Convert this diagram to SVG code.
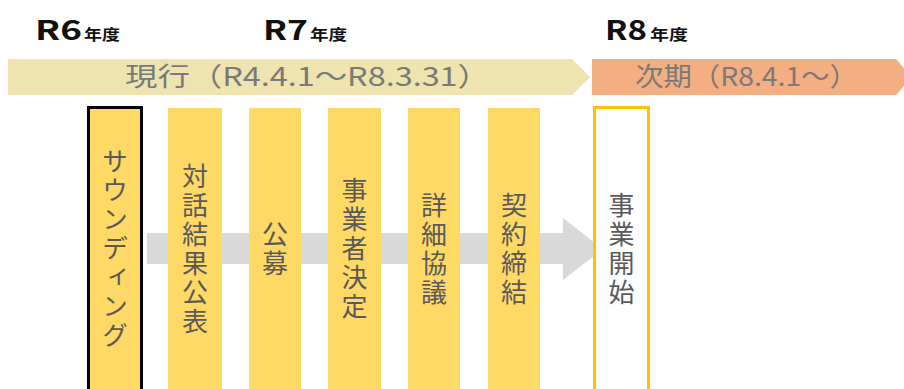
<svg xmlns="http://www.w3.org/2000/svg" width="904" height="389" viewBox="0 0 904 389">
<style>
.yr{font-family:"Noto Sans CJK JP","Noto Sans",sans-serif;font-weight:bold;fill:#111}
.big{font-size:27px}
.sm{font-size:15px}
.band{font-family:"Noto Sans CJK JP","Noto Sans",sans-serif;font-size:26px;fill:#7a7a7a}
.step{fill:#FFD966}
.vt{font-family:"Noto Sans CJK JP","Noto Sans",sans-serif;font-size:26px;fill:#5a5a5a;writing-mode:vertical-rl;text-anchor:middle;letter-spacing:3px}
</style>
<rect width="904" height="389" fill="#fff"/>
<g id="year-labels">
<text class="yr big" x="35" y="40" textLength="47" lengthAdjust="spacingAndGlyphs">R6</text>
<text class="yr sm" x="84" y="40" textLength="36" lengthAdjust="spacingAndGlyphs">年度</text>
<text class="yr big" x="263" y="40" textLength="45" lengthAdjust="spacingAndGlyphs">R7</text>
<text class="yr sm" x="310" y="40" textLength="37" lengthAdjust="spacingAndGlyphs">年度</text>
<text class="yr big" x="605" y="40" textLength="42" lengthAdjust="spacingAndGlyphs">R8</text>
<text class="yr sm" x="650" y="40" textLength="38" lengthAdjust="spacingAndGlyphs">年度</text>
</g>
<g id="band-current">
<polygon points="8,59 572,59 590,77 572,95 8,95" fill="#EFE3B0"/>
<text class="band" x="125" y="86" textLength="365" lengthAdjust="spacingAndGlyphs">現行（R4.4.1～R8.3.31）</text>
</g>
<g id="band-next">
<polygon points="592,59 896,59 904,68 904,86 896,95 592,95" fill="#F3AE82"/>
<text class="band" x="635" y="86" textLength="223" lengthAdjust="spacingAndGlyphs">次期（R8.4.1～）</text>
</g>
<g id="connectors">
<polygon points="147,233 563,233 563,218 603,249 563,280 563,264 147,264" fill="#D9D9D9"/>
</g>
<g id="sounding">
<rect x="88.5" y="107.5" width="53" height="295" fill="#FFD966" stroke="#000" stroke-width="3"/>
<text class="vt" x="115" y="250">サウンディング</text>
</g>
<g id="dialogue">
<rect class="step" x="168" y="108" width="54" height="290"/>
<text class="vt" x="195" y="250">対話結果公表</text>
</g>
<g id="koubo">
<rect class="step" x="249" y="108" width="52" height="290"/>
<text class="vt" x="275" y="250">公募</text>
</g>
<g id="decision">
<rect class="step" x="328" y="108" width="53" height="290"/>
<text class="vt" x="354.5" y="250">事業者決定</text>
</g>
<g id="negotiation">
<rect class="step" x="408" y="108" width="52" height="290"/>
<text class="vt" x="434" y="250">詳細協議</text>
</g>
<g id="contract">
<rect class="step" x="488" y="108" width="52" height="290"/>
<text class="vt" x="514" y="250">契約締結</text>
</g>
<g id="start">
<rect x="594.5" y="107.5" width="54" height="295" fill="#fff" stroke="#FFC000" stroke-width="3"/>
<text class="vt" x="621.5" y="250">事業開始</text>
</g>
</svg>
